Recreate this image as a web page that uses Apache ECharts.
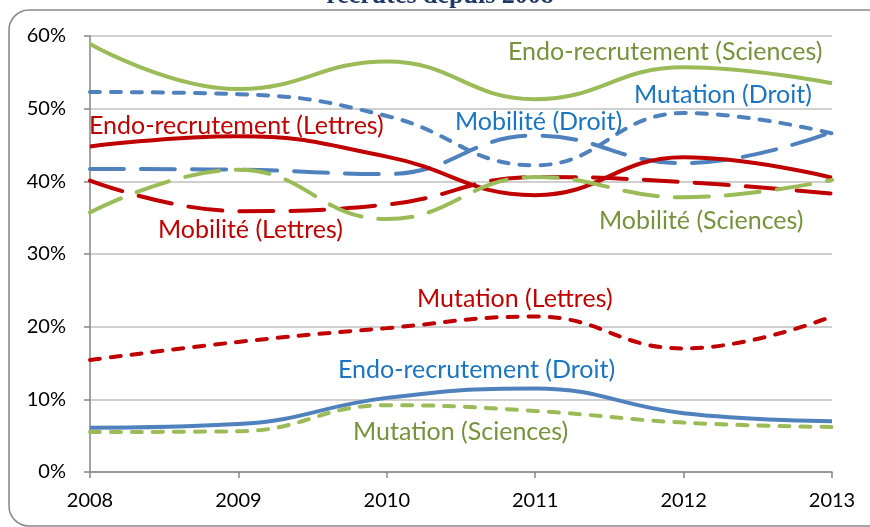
<!DOCTYPE html>
<html>
<head>
<meta charset="utf-8">
<script src="https://cdn.jsdelivr.net/npm/echarts@6/dist/echarts.min.js"></script>
<style>html,body{margin:0;padding:0;background:#fff;}#c{width:870px;height:527px;}</style>
</head>
<body>
<div id="c"></div>
<script>
var years = ['2008', '2009', '2010', '2011', '2012', '2013'];
var endoSciences   = [58.9, 52.7, 56.5, 51.3, 55.7, 53.5];
var mutationDroit  = [52.3, 52.0, 49.0, 42.2, 49.4, 46.6];
var mobiliteDroit  = [41.7, 41.6, 41.0, 46.3, 42.5, 46.8];
var endoLettres    = [44.8, 46.2, 43.4, 38.1, 43.3, 40.5];
var mobiliteLettres= [40.1, 35.9, 36.8, 40.6, 39.9, 38.3];
var mobiliteSciences=[35.7, 41.6, 34.8, 40.6, 37.8, 40.2];
var mutationLettres= [15.4, 17.9, 19.8, 21.4, 17.0, 21.4];
var endoDroit      = [6.1, 6.6, 10.2, 11.5, 8.1, 7.0];
var mutationSciences=[5.5, 5.6, 9.2, 8.4, 6.8, 6.2];
var yTicks = [0, 10, 20, 30, 40, 50, 60];

var GREEN = '#9BBB59', BLUE = '#4F81BD', RED = '#C00000';
var GREEN_T = '#76923C', BLUE_T = '#1B75C0', RED_T = '#C00000';
var SHORT = [10, 11], LONG = [34, 17];

function line(name, data, color, dash) {
  return {
    name: name, type: 'line', data: data, smooth: 0.45,
    symbol: 'none', silent: true,
    lineStyle: { color: color, width: 4, type: dash || 'solid', cap: dash ? 'round' : 'butt' }
  };
}

var chart = echarts.init(document.getElementById('c'), null, { renderer: 'canvas' });
var labelFont = 'Lato';
function lbl(text, x, y, color) {
  return { type: 'text', x: x, y: y, z: 10,
    style: { text: text, fill: color, font: '25px ' + labelFont, textVerticalAlign: 'middle', verticalAlign: 'middle' } };
}
chart.setOption({
  animation: false,
  backgroundColor: '#fff',
  grid: { left: 90, right: 38, top: 36, bottom: 55, containLabel: false },
  xAxis: {
    type: 'category', data: years, boundaryGap: false,
    axisLine: { lineStyle: { color: '#868686', width: 1.5 } },
    axisTick: { show: true, length: 6, lineStyle: { color: '#868686', width: 1.5 } },
    axisLabel: { color: '#000', fontFamily: labelFont, fontSize: 20, margin: 19 },
    splitLine: { show: false }
  },
  yAxis: {
    type: 'value', min: yTicks[0], max: yTicks[yTicks.length - 1], interval: 10,
    axisLine: { show: true, lineStyle: { color: '#868686', width: 1.5 } },
    axisTick: { show: true, length: 6, lineStyle: { color: '#868686', width: 1.5 } },
    axisLabel: { color: '#000', fontFamily: labelFont, fontSize: 20, margin: 24, formatter: '{value}%' },
    splitLine: { show: true, lineStyle: { color: '#BFBFBF', width: 1.5 } }
  },
  graphic: [
    { type: 'rect', z: -1, shape: { x: 9, y: 10, width: 900, height: 516, r: 20 },
      style: { fill: null, stroke: '#868686', lineWidth: 1.5 } },
    { type: 'text', x: 440, y: -4, z: 10,
      style: { text: 'recrutés depuis 2008', fill: '#1F3864', font: 'bold 26px "Liberation Serif"', textAlign: 'center', align: 'center', verticalAlign: 'middle', textVerticalAlign: 'middle' } },
    lbl('Endo-recrutement (Sciences)', 508, 52, GREEN_T),
    lbl('Mutation (Droit)', 634, 95, BLUE_T),
    lbl('Mobilité (Droit)', 455, 122, BLUE_T),
    lbl('Endo-recrutement (Lettres)', 89, 126, RED_T),
    lbl('Mobilité (Lettres)', 158, 230, RED_T),
    lbl('Mobilité (Sciences)', 599, 221, GREEN_T),
    lbl('Mutation (Lettres)', 417, 299, RED_T),
    lbl('Endo-recrutement (Droit)', 338, 370, BLUE_T),
    lbl('Mutation (Sciences)', 353, 432, GREEN_T)
  ],
  series: [
    line('Endo-recrutement (Sciences)', endoSciences, GREEN),
    line('Mutation (Droit)', mutationDroit, BLUE, SHORT),
    line('Mobilité (Droit)', mobiliteDroit, BLUE, LONG),
    line('Endo-recrutement (Lettres)', endoLettres, RED),
    line('Mobilité (Lettres)', mobiliteLettres, RED, LONG),
    line('Mobilité (Sciences)', mobiliteSciences, GREEN, LONG),
    line('Mutation (Lettres)', mutationLettres, RED, SHORT),
    line('Endo-recrutement (Droit)', endoDroit, BLUE),
    line('Mutation (Sciences)', mutationSciences, GREEN, SHORT)
  ]
});
</script>
</body>
</html>
